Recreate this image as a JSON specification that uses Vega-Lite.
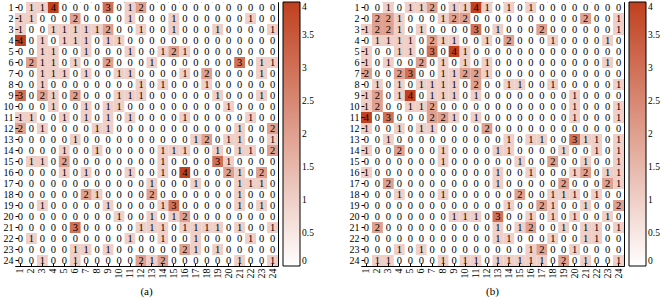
{"$schema":"https://vega.github.io/schema/vega-lite/v6.json","padding":{"left":2,"top":1,"right":0,"bottom":0},"config":{"font":"Liberation Serif","range":{"heatmap":["#ffffff","#c0401f"],"ramp":["#ffffff","#c0401f"]},"view":{"stroke":"black","strokeWidth":1},"axis":{"labelFont":"Liberation Serif","labelFontSize":10,"labelColor":"black","domain":false,"tickColor":"black","tickSize":-3,"labelPadding":5,"title":null,"grid":false},"legend":{"title":null,"gradientLength":264,"gradientThickness":17,"gradientStrokeColor":"black","gradientStrokeWidth":1,"labelFont":"Liberation Serif","labelFontSize":9.5,"labelColor":"black","labelOffset":4,"offset":4,"padding":0,"labelOverlap":false},"concat":{"spacing":33}},
"datasets":{
"a":[
{"r":1,"c":1,"v":0},{"r":1,"c":2,"v":1},{"r":1,"c":3,"v":1},{"r":1,"c":4,"v":4},{"r":1,"c":5,"v":0},{"r":1,"c":6,"v":0},{"r":1,"c":7,"v":0},{"r":1,"c":8,"v":0},{"r":1,"c":9,"v":3},{"r":1,"c":10,"v":0},{"r":1,"c":11,"v":1},{"r":1,"c":12,"v":2},{"r":1,"c":13,"v":0},{"r":1,"c":14,"v":0},{"r":1,"c":15,"v":0},{"r":1,"c":16,"v":0},{"r":1,"c":17,"v":0},{"r":1,"c":18,"v":0},{"r":1,"c":19,"v":0},{"r":1,"c":20,"v":0},{"r":1,"c":21,"v":0},{"r":1,"c":22,"v":0},{"r":1,"c":23,"v":0},{"r":1,"c":24,"v":0},
{"r":2,"c":1,"v":1},{"r":2,"c":2,"v":1},{"r":2,"c":3,"v":0},{"r":2,"c":4,"v":0},{"r":2,"c":5,"v":0},{"r":2,"c":6,"v":2},{"r":2,"c":7,"v":0},{"r":2,"c":8,"v":0},{"r":2,"c":9,"v":0},{"r":2,"c":10,"v":0},{"r":2,"c":11,"v":1},{"r":2,"c":12,"v":0},{"r":2,"c":13,"v":0},{"r":2,"c":14,"v":0},{"r":2,"c":15,"v":1},{"r":2,"c":16,"v":0},{"r":2,"c":17,"v":0},{"r":2,"c":18,"v":0},{"r":2,"c":19,"v":0},{"r":2,"c":20,"v":0},{"r":2,"c":21,"v":0},{"r":2,"c":22,"v":1},{"r":2,"c":23,"v":0},{"r":2,"c":24,"v":0},
{"r":3,"c":1,"v":1},{"r":3,"c":2,"v":0},{"r":3,"c":3,"v":0},{"r":3,"c":4,"v":1},{"r":3,"c":5,"v":1},{"r":3,"c":6,"v":1},{"r":3,"c":7,"v":1},{"r":3,"c":8,"v":1},{"r":3,"c":9,"v":2},{"r":3,"c":10,"v":0},{"r":3,"c":11,"v":0},{"r":3,"c":12,"v":1},{"r":3,"c":13,"v":0},{"r":3,"c":14,"v":0},{"r":3,"c":15,"v":1},{"r":3,"c":16,"v":0},{"r":3,"c":17,"v":0},{"r":3,"c":18,"v":0},{"r":3,"c":19,"v":1},{"r":3,"c":20,"v":0},{"r":3,"c":21,"v":0},{"r":3,"c":22,"v":0},{"r":3,"c":23,"v":0},{"r":3,"c":24,"v":1},
{"r":4,"c":1,"v":4},{"r":4,"c":2,"v":0},{"r":4,"c":3,"v":1},{"r":4,"c":4,"v":0},{"r":4,"c":5,"v":1},{"r":4,"c":6,"v":1},{"r":4,"c":7,"v":1},{"r":4,"c":8,"v":0},{"r":4,"c":9,"v":1},{"r":4,"c":10,"v":1},{"r":4,"c":11,"v":0},{"r":4,"c":12,"v":0},{"r":4,"c":13,"v":0},{"r":4,"c":14,"v":0},{"r":4,"c":15,"v":0},{"r":4,"c":16,"v":0},{"r":4,"c":17,"v":0},{"r":4,"c":18,"v":0},{"r":4,"c":19,"v":0},{"r":4,"c":20,"v":0},{"r":4,"c":21,"v":0},{"r":4,"c":22,"v":0},{"r":4,"c":23,"v":0},{"r":4,"c":24,"v":0},
{"r":5,"c":1,"v":0},{"r":5,"c":2,"v":0},{"r":5,"c":3,"v":1},{"r":5,"c":4,"v":1},{"r":5,"c":5,"v":0},{"r":5,"c":6,"v":0},{"r":5,"c":7,"v":1},{"r":5,"c":8,"v":0},{"r":5,"c":9,"v":0},{"r":5,"c":10,"v":0},{"r":5,"c":11,"v":1},{"r":5,"c":12,"v":0},{"r":5,"c":13,"v":0},{"r":5,"c":14,"v":1},{"r":5,"c":15,"v":2},{"r":5,"c":16,"v":1},{"r":5,"c":17,"v":0},{"r":5,"c":18,"v":0},{"r":5,"c":19,"v":0},{"r":5,"c":20,"v":0},{"r":5,"c":21,"v":0},{"r":5,"c":22,"v":0},{"r":5,"c":23,"v":0},{"r":5,"c":24,"v":0},
{"r":6,"c":1,"v":0},{"r":6,"c":2,"v":2},{"r":6,"c":3,"v":1},{"r":6,"c":4,"v":1},{"r":6,"c":5,"v":0},{"r":6,"c":6,"v":1},{"r":6,"c":7,"v":0},{"r":6,"c":8,"v":0},{"r":6,"c":9,"v":2},{"r":6,"c":10,"v":0},{"r":6,"c":11,"v":0},{"r":6,"c":12,"v":0},{"r":6,"c":13,"v":1},{"r":6,"c":14,"v":0},{"r":6,"c":15,"v":0},{"r":6,"c":16,"v":0},{"r":6,"c":17,"v":0},{"r":6,"c":18,"v":0},{"r":6,"c":19,"v":0},{"r":6,"c":20,"v":0},{"r":6,"c":21,"v":3},{"r":6,"c":22,"v":0},{"r":6,"c":23,"v":1},{"r":6,"c":24,"v":1},
{"r":7,"c":1,"v":0},{"r":7,"c":2,"v":0},{"r":7,"c":3,"v":1},{"r":7,"c":4,"v":1},{"r":7,"c":5,"v":1},{"r":7,"c":6,"v":0},{"r":7,"c":7,"v":1},{"r":7,"c":8,"v":0},{"r":7,"c":9,"v":0},{"r":7,"c":10,"v":1},{"r":7,"c":11,"v":1},{"r":7,"c":12,"v":0},{"r":7,"c":13,"v":0},{"r":7,"c":14,"v":0},{"r":7,"c":15,"v":0},{"r":7,"c":16,"v":1},{"r":7,"c":17,"v":0},{"r":7,"c":18,"v":2},{"r":7,"c":19,"v":0},{"r":7,"c":20,"v":0},{"r":7,"c":21,"v":0},{"r":7,"c":22,"v":0},{"r":7,"c":23,"v":1},{"r":7,"c":24,"v":0},
{"r":8,"c":1,"v":0},{"r":8,"c":2,"v":0},{"r":8,"c":3,"v":1},{"r":8,"c":4,"v":0},{"r":8,"c":5,"v":0},{"r":8,"c":6,"v":0},{"r":8,"c":7,"v":0},{"r":8,"c":8,"v":0},{"r":8,"c":9,"v":0},{"r":8,"c":10,"v":0},{"r":8,"c":11,"v":0},{"r":8,"c":12,"v":1},{"r":8,"c":13,"v":0},{"r":8,"c":14,"v":1},{"r":8,"c":15,"v":0},{"r":8,"c":16,"v":0},{"r":8,"c":17,"v":0},{"r":8,"c":18,"v":1},{"r":8,"c":19,"v":0},{"r":8,"c":20,"v":0},{"r":8,"c":21,"v":0},{"r":8,"c":22,"v":0},{"r":8,"c":23,"v":0},{"r":8,"c":24,"v":0},
{"r":9,"c":1,"v":3},{"r":9,"c":2,"v":0},{"r":9,"c":3,"v":2},{"r":9,"c":4,"v":1},{"r":9,"c":5,"v":0},{"r":9,"c":6,"v":2},{"r":9,"c":7,"v":0},{"r":9,"c":8,"v":0},{"r":9,"c":9,"v":0},{"r":9,"c":10,"v":1},{"r":9,"c":11,"v":1},{"r":9,"c":12,"v":1},{"r":9,"c":13,"v":0},{"r":9,"c":14,"v":0},{"r":9,"c":15,"v":0},{"r":9,"c":16,"v":0},{"r":9,"c":17,"v":0},{"r":9,"c":18,"v":0},{"r":9,"c":19,"v":1},{"r":9,"c":20,"v":0},{"r":9,"c":21,"v":0},{"r":9,"c":22,"v":0},{"r":9,"c":23,"v":1},{"r":9,"c":24,"v":0},
{"r":10,"c":1,"v":0},{"r":10,"c":2,"v":0},{"r":10,"c":3,"v":0},{"r":10,"c":4,"v":1},{"r":10,"c":5,"v":0},{"r":10,"c":6,"v":0},{"r":10,"c":7,"v":1},{"r":10,"c":8,"v":0},{"r":10,"c":9,"v":1},{"r":10,"c":10,"v":1},{"r":10,"c":11,"v":0},{"r":10,"c":12,"v":0},{"r":10,"c":13,"v":0},{"r":10,"c":14,"v":0},{"r":10,"c":15,"v":0},{"r":10,"c":16,"v":0},{"r":10,"c":17,"v":0},{"r":10,"c":18,"v":0},{"r":10,"c":19,"v":0},{"r":10,"c":20,"v":1},{"r":10,"c":21,"v":0},{"r":10,"c":22,"v":0},{"r":10,"c":23,"v":0},{"r":10,"c":24,"v":0},
{"r":11,"c":1,"v":1},{"r":11,"c":2,"v":1},{"r":11,"c":3,"v":0},{"r":11,"c":4,"v":0},{"r":11,"c":5,"v":1},{"r":11,"c":6,"v":0},{"r":11,"c":7,"v":1},{"r":11,"c":8,"v":0},{"r":11,"c":9,"v":1},{"r":11,"c":10,"v":0},{"r":11,"c":11,"v":1},{"r":11,"c":12,"v":0},{"r":11,"c":13,"v":0},{"r":11,"c":14,"v":0},{"r":11,"c":15,"v":0},{"r":11,"c":16,"v":1},{"r":11,"c":17,"v":0},{"r":11,"c":18,"v":0},{"r":11,"c":19,"v":0},{"r":11,"c":20,"v":0},{"r":11,"c":21,"v":0},{"r":11,"c":22,"v":1},{"r":11,"c":23,"v":0},{"r":11,"c":24,"v":0},
{"r":12,"c":1,"v":2},{"r":12,"c":2,"v":0},{"r":12,"c":3,"v":1},{"r":12,"c":4,"v":0},{"r":12,"c":5,"v":0},{"r":12,"c":6,"v":0},{"r":12,"c":7,"v":0},{"r":12,"c":8,"v":1},{"r":12,"c":9,"v":1},{"r":12,"c":10,"v":0},{"r":12,"c":11,"v":0},{"r":12,"c":12,"v":0},{"r":12,"c":13,"v":0},{"r":12,"c":14,"v":0},{"r":12,"c":15,"v":0},{"r":12,"c":16,"v":0},{"r":12,"c":17,"v":0},{"r":12,"c":18,"v":0},{"r":12,"c":19,"v":0},{"r":12,"c":20,"v":0},{"r":12,"c":21,"v":1},{"r":12,"c":22,"v":0},{"r":12,"c":23,"v":0},{"r":12,"c":24,"v":2},
{"r":13,"c":1,"v":0},{"r":13,"c":2,"v":0},{"r":13,"c":3,"v":0},{"r":13,"c":4,"v":0},{"r":13,"c":5,"v":0},{"r":13,"c":6,"v":1},{"r":13,"c":7,"v":0},{"r":13,"c":8,"v":0},{"r":13,"c":9,"v":0},{"r":13,"c":10,"v":0},{"r":13,"c":11,"v":0},{"r":13,"c":12,"v":0},{"r":13,"c":13,"v":0},{"r":13,"c":14,"v":0},{"r":13,"c":15,"v":0},{"r":13,"c":16,"v":0},{"r":13,"c":17,"v":1},{"r":13,"c":18,"v":2},{"r":13,"c":19,"v":0},{"r":13,"c":20,"v":1},{"r":13,"c":21,"v":1},{"r":13,"c":22,"v":0},{"r":13,"c":23,"v":0},{"r":13,"c":24,"v":1},
{"r":14,"c":1,"v":0},{"r":14,"c":2,"v":0},{"r":14,"c":3,"v":0},{"r":14,"c":4,"v":0},{"r":14,"c":5,"v":1},{"r":14,"c":6,"v":0},{"r":14,"c":7,"v":0},{"r":14,"c":8,"v":1},{"r":14,"c":9,"v":0},{"r":14,"c":10,"v":0},{"r":14,"c":11,"v":0},{"r":14,"c":12,"v":0},{"r":14,"c":13,"v":0},{"r":14,"c":14,"v":1},{"r":14,"c":15,"v":1},{"r":14,"c":16,"v":1},{"r":14,"c":17,"v":0},{"r":14,"c":18,"v":0},{"r":14,"c":19,"v":1},{"r":14,"c":20,"v":0},{"r":14,"c":21,"v":1},{"r":14,"c":22,"v":1},{"r":14,"c":23,"v":0},{"r":14,"c":24,"v":2},
{"r":15,"c":1,"v":0},{"r":15,"c":2,"v":1},{"r":15,"c":3,"v":1},{"r":15,"c":4,"v":0},{"r":15,"c":5,"v":2},{"r":15,"c":6,"v":0},{"r":15,"c":7,"v":0},{"r":15,"c":8,"v":0},{"r":15,"c":9,"v":0},{"r":15,"c":10,"v":0},{"r":15,"c":11,"v":0},{"r":15,"c":12,"v":0},{"r":15,"c":13,"v":0},{"r":15,"c":14,"v":1},{"r":15,"c":15,"v":0},{"r":15,"c":16,"v":0},{"r":15,"c":17,"v":0},{"r":15,"c":18,"v":0},{"r":15,"c":19,"v":3},{"r":15,"c":20,"v":1},{"r":15,"c":21,"v":0},{"r":15,"c":22,"v":0},{"r":15,"c":23,"v":0},{"r":15,"c":24,"v":0},
{"r":16,"c":1,"v":0},{"r":16,"c":2,"v":0},{"r":16,"c":3,"v":0},{"r":16,"c":4,"v":0},{"r":16,"c":5,"v":1},{"r":16,"c":6,"v":0},{"r":16,"c":7,"v":1},{"r":16,"c":8,"v":0},{"r":16,"c":9,"v":0},{"r":16,"c":10,"v":0},{"r":16,"c":11,"v":1},{"r":16,"c":12,"v":0},{"r":16,"c":13,"v":0},{"r":16,"c":14,"v":1},{"r":16,"c":15,"v":0},{"r":16,"c":16,"v":4},{"r":16,"c":17,"v":0},{"r":16,"c":18,"v":0},{"r":16,"c":19,"v":0},{"r":16,"c":20,"v":2},{"r":16,"c":21,"v":1},{"r":16,"c":22,"v":0},{"r":16,"c":23,"v":2},{"r":16,"c":24,"v":0},
{"r":17,"c":1,"v":0},{"r":17,"c":2,"v":0},{"r":17,"c":3,"v":0},{"r":17,"c":4,"v":0},{"r":17,"c":5,"v":0},{"r":17,"c":6,"v":0},{"r":17,"c":7,"v":0},{"r":17,"c":8,"v":0},{"r":17,"c":9,"v":0},{"r":17,"c":10,"v":0},{"r":17,"c":11,"v":0},{"r":17,"c":12,"v":0},{"r":17,"c":13,"v":1},{"r":17,"c":14,"v":0},{"r":17,"c":15,"v":0},{"r":17,"c":16,"v":0},{"r":17,"c":17,"v":1},{"r":17,"c":18,"v":0},{"r":17,"c":19,"v":0},{"r":17,"c":20,"v":0},{"r":17,"c":21,"v":1},{"r":17,"c":22,"v":1},{"r":17,"c":23,"v":1},{"r":17,"c":24,"v":0},
{"r":18,"c":1,"v":0},{"r":18,"c":2,"v":0},{"r":18,"c":3,"v":0},{"r":18,"c":4,"v":0},{"r":18,"c":5,"v":0},{"r":18,"c":6,"v":0},{"r":18,"c":7,"v":2},{"r":18,"c":8,"v":1},{"r":18,"c":9,"v":0},{"r":18,"c":10,"v":0},{"r":18,"c":11,"v":0},{"r":18,"c":12,"v":0},{"r":18,"c":13,"v":2},{"r":18,"c":14,"v":0},{"r":18,"c":15,"v":0},{"r":18,"c":16,"v":0},{"r":18,"c":17,"v":0},{"r":18,"c":18,"v":0},{"r":18,"c":19,"v":0},{"r":18,"c":20,"v":0},{"r":18,"c":21,"v":1},{"r":18,"c":22,"v":0},{"r":18,"c":23,"v":0},{"r":18,"c":24,"v":0},
{"r":19,"c":1,"v":0},{"r":19,"c":2,"v":0},{"r":19,"c":3,"v":1},{"r":19,"c":4,"v":0},{"r":19,"c":5,"v":0},{"r":19,"c":6,"v":0},{"r":19,"c":7,"v":0},{"r":19,"c":8,"v":0},{"r":19,"c":9,"v":1},{"r":19,"c":10,"v":0},{"r":19,"c":11,"v":0},{"r":19,"c":12,"v":0},{"r":19,"c":13,"v":0},{"r":19,"c":14,"v":1},{"r":19,"c":15,"v":3},{"r":19,"c":16,"v":0},{"r":19,"c":17,"v":0},{"r":19,"c":18,"v":0},{"r":19,"c":19,"v":0},{"r":19,"c":20,"v":0},{"r":19,"c":21,"v":1},{"r":19,"c":22,"v":0},{"r":19,"c":23,"v":1},{"r":19,"c":24,"v":0},
{"r":20,"c":1,"v":0},{"r":20,"c":2,"v":0},{"r":20,"c":3,"v":0},{"r":20,"c":4,"v":0},{"r":20,"c":5,"v":0},{"r":20,"c":6,"v":0},{"r":20,"c":7,"v":0},{"r":20,"c":8,"v":0},{"r":20,"c":9,"v":0},{"r":20,"c":10,"v":1},{"r":20,"c":11,"v":0},{"r":20,"c":12,"v":0},{"r":20,"c":13,"v":1},{"r":20,"c":14,"v":0},{"r":20,"c":15,"v":1},{"r":20,"c":16,"v":2},{"r":20,"c":17,"v":0},{"r":20,"c":18,"v":0},{"r":20,"c":19,"v":0},{"r":20,"c":20,"v":0},{"r":20,"c":21,"v":0},{"r":20,"c":22,"v":0},{"r":20,"c":23,"v":0},{"r":20,"c":24,"v":0},
{"r":21,"c":1,"v":0},{"r":21,"c":2,"v":0},{"r":21,"c":3,"v":0},{"r":21,"c":4,"v":0},{"r":21,"c":5,"v":0},{"r":21,"c":6,"v":3},{"r":21,"c":7,"v":0},{"r":21,"c":8,"v":0},{"r":21,"c":9,"v":0},{"r":21,"c":10,"v":0},{"r":21,"c":11,"v":0},{"r":21,"c":12,"v":1},{"r":21,"c":13,"v":1},{"r":21,"c":14,"v":1},{"r":21,"c":15,"v":0},{"r":21,"c":16,"v":1},{"r":21,"c":17,"v":1},{"r":21,"c":18,"v":1},{"r":21,"c":19,"v":1},{"r":21,"c":20,"v":0},{"r":21,"c":21,"v":1},{"r":21,"c":22,"v":0},{"r":21,"c":23,"v":0},{"r":21,"c":24,"v":1},
{"r":22,"c":1,"v":0},{"r":22,"c":2,"v":1},{"r":22,"c":3,"v":0},{"r":22,"c":4,"v":0},{"r":22,"c":5,"v":0},{"r":22,"c":6,"v":0},{"r":22,"c":7,"v":0},{"r":22,"c":8,"v":0},{"r":22,"c":9,"v":0},{"r":22,"c":10,"v":0},{"r":22,"c":11,"v":1},{"r":22,"c":12,"v":0},{"r":22,"c":13,"v":0},{"r":22,"c":14,"v":1},{"r":22,"c":15,"v":0},{"r":22,"c":16,"v":0},{"r":22,"c":17,"v":1},{"r":22,"c":18,"v":0},{"r":22,"c":19,"v":0},{"r":22,"c":20,"v":0},{"r":22,"c":21,"v":0},{"r":22,"c":22,"v":1},{"r":22,"c":23,"v":0},{"r":22,"c":24,"v":0},
{"r":23,"c":1,"v":0},{"r":23,"c":2,"v":0},{"r":23,"c":3,"v":0},{"r":23,"c":4,"v":0},{"r":23,"c":5,"v":0},{"r":23,"c":6,"v":1},{"r":23,"c":7,"v":1},{"r":23,"c":8,"v":0},{"r":23,"c":9,"v":1},{"r":23,"c":10,"v":0},{"r":23,"c":11,"v":0},{"r":23,"c":12,"v":0},{"r":23,"c":13,"v":0},{"r":23,"c":14,"v":0},{"r":23,"c":15,"v":0},{"r":23,"c":16,"v":2},{"r":23,"c":17,"v":1},{"r":23,"c":18,"v":0},{"r":23,"c":19,"v":1},{"r":23,"c":20,"v":0},{"r":23,"c":21,"v":0},{"r":23,"c":22,"v":0},{"r":23,"c":23,"v":0},{"r":23,"c":24,"v":0},
{"r":24,"c":1,"v":0},{"r":24,"c":2,"v":0},{"r":24,"c":3,"v":1},{"r":24,"c":4,"v":0},{"r":24,"c":5,"v":0},{"r":24,"c":6,"v":1},{"r":24,"c":7,"v":0},{"r":24,"c":8,"v":0},{"r":24,"c":9,"v":0},{"r":24,"c":10,"v":0},{"r":24,"c":11,"v":0},{"r":24,"c":12,"v":2},{"r":24,"c":13,"v":1},{"r":24,"c":14,"v":2},{"r":24,"c":15,"v":0},{"r":24,"c":16,"v":0},{"r":24,"c":17,"v":0},{"r":24,"c":18,"v":0},{"r":24,"c":19,"v":0},{"r":24,"c":20,"v":0},{"r":24,"c":21,"v":1},{"r":24,"c":22,"v":0},{"r":24,"c":23,"v":0},{"r":24,"c":24,"v":1}
],
"b":[
{"r":1,"c":1,"v":0},{"r":1,"c":2,"v":0},{"r":1,"c":3,"v":1},{"r":1,"c":4,"v":0},{"r":1,"c":5,"v":1},{"r":1,"c":6,"v":1},{"r":1,"c":7,"v":2},{"r":1,"c":8,"v":0},{"r":1,"c":9,"v":1},{"r":1,"c":10,"v":1},{"r":1,"c":11,"v":4},{"r":1,"c":12,"v":1},{"r":1,"c":13,"v":0},{"r":1,"c":14,"v":1},{"r":1,"c":15,"v":0},{"r":1,"c":16,"v":1},{"r":1,"c":17,"v":0},{"r":1,"c":18,"v":0},{"r":1,"c":19,"v":0},{"r":1,"c":20,"v":0},{"r":1,"c":21,"v":0},{"r":1,"c":22,"v":0},{"r":1,"c":23,"v":0},{"r":1,"c":24,"v":0},
{"r":2,"c":1,"v":0},{"r":2,"c":2,"v":2},{"r":2,"c":3,"v":2},{"r":2,"c":4,"v":1},{"r":2,"c":5,"v":0},{"r":2,"c":6,"v":0},{"r":2,"c":7,"v":0},{"r":2,"c":8,"v":1},{"r":2,"c":9,"v":2},{"r":2,"c":10,"v":2},{"r":2,"c":11,"v":0},{"r":2,"c":12,"v":0},{"r":2,"c":13,"v":0},{"r":2,"c":14,"v":0},{"r":2,"c":15,"v":0},{"r":2,"c":16,"v":0},{"r":2,"c":17,"v":0},{"r":2,"c":18,"v":0},{"r":2,"c":19,"v":0},{"r":2,"c":20,"v":0},{"r":2,"c":21,"v":2},{"r":2,"c":22,"v":0},{"r":2,"c":23,"v":0},{"r":2,"c":24,"v":1},
{"r":3,"c":1,"v":1},{"r":3,"c":2,"v":2},{"r":3,"c":3,"v":2},{"r":3,"c":4,"v":1},{"r":3,"c":5,"v":0},{"r":3,"c":6,"v":1},{"r":3,"c":7,"v":0},{"r":3,"c":8,"v":0},{"r":3,"c":9,"v":0},{"r":3,"c":10,"v":0},{"r":3,"c":11,"v":3},{"r":3,"c":12,"v":0},{"r":3,"c":13,"v":1},{"r":3,"c":14,"v":0},{"r":3,"c":15,"v":0},{"r":3,"c":16,"v":0},{"r":3,"c":17,"v":2},{"r":3,"c":18,"v":0},{"r":3,"c":19,"v":0},{"r":3,"c":20,"v":0},{"r":3,"c":21,"v":0},{"r":3,"c":22,"v":0},{"r":3,"c":23,"v":0},{"r":3,"c":24,"v":1},
{"r":4,"c":1,"v":0},{"r":4,"c":2,"v":1},{"r":4,"c":3,"v":1},{"r":4,"c":4,"v":1},{"r":4,"c":5,"v":1},{"r":4,"c":6,"v":0},{"r":4,"c":7,"v":2},{"r":4,"c":8,"v":1},{"r":4,"c":9,"v":1},{"r":4,"c":10,"v":0},{"r":4,"c":11,"v":0},{"r":4,"c":12,"v":1},{"r":4,"c":13,"v":0},{"r":4,"c":14,"v":2},{"r":4,"c":15,"v":0},{"r":4,"c":16,"v":0},{"r":4,"c":17,"v":0},{"r":4,"c":18,"v":1},{"r":4,"c":19,"v":0},{"r":4,"c":20,"v":0},{"r":4,"c":21,"v":0},{"r":4,"c":22,"v":0},{"r":4,"c":23,"v":1},{"r":4,"c":24,"v":0},
{"r":5,"c":1,"v":1},{"r":5,"c":2,"v":0},{"r":5,"c":3,"v":0},{"r":5,"c":4,"v":1},{"r":5,"c":5,"v":1},{"r":5,"c":6,"v":0},{"r":5,"c":7,"v":3},{"r":5,"c":8,"v":0},{"r":5,"c":9,"v":4},{"r":5,"c":10,"v":1},{"r":5,"c":11,"v":0},{"r":5,"c":12,"v":0},{"r":5,"c":13,"v":0},{"r":5,"c":14,"v":0},{"r":5,"c":15,"v":0},{"r":5,"c":16,"v":0},{"r":5,"c":17,"v":0},{"r":5,"c":18,"v":0},{"r":5,"c":19,"v":0},{"r":5,"c":20,"v":0},{"r":5,"c":21,"v":0},{"r":5,"c":22,"v":0},{"r":5,"c":23,"v":0},{"r":5,"c":24,"v":0},
{"r":6,"c":1,"v":1},{"r":6,"c":2,"v":0},{"r":6,"c":3,"v":1},{"r":6,"c":4,"v":0},{"r":6,"c":5,"v":0},{"r":6,"c":6,"v":2},{"r":6,"c":7,"v":0},{"r":6,"c":8,"v":1},{"r":6,"c":9,"v":0},{"r":6,"c":10,"v":1},{"r":6,"c":11,"v":0},{"r":6,"c":12,"v":1},{"r":6,"c":13,"v":0},{"r":6,"c":14,"v":0},{"r":6,"c":15,"v":0},{"r":6,"c":16,"v":0},{"r":6,"c":17,"v":0},{"r":6,"c":18,"v":0},{"r":6,"c":19,"v":0},{"r":6,"c":20,"v":0},{"r":6,"c":21,"v":0},{"r":6,"c":22,"v":0},{"r":6,"c":23,"v":1},{"r":6,"c":24,"v":0},
{"r":7,"c":1,"v":2},{"r":7,"c":2,"v":0},{"r":7,"c":3,"v":0},{"r":7,"c":4,"v":2},{"r":7,"c":5,"v":3},{"r":7,"c":6,"v":0},{"r":7,"c":7,"v":0},{"r":7,"c":8,"v":1},{"r":7,"c":9,"v":1},{"r":7,"c":10,"v":2},{"r":7,"c":11,"v":2},{"r":7,"c":12,"v":1},{"r":7,"c":13,"v":0},{"r":7,"c":14,"v":0},{"r":7,"c":15,"v":0},{"r":7,"c":16,"v":0},{"r":7,"c":17,"v":0},{"r":7,"c":18,"v":0},{"r":7,"c":19,"v":0},{"r":7,"c":20,"v":0},{"r":7,"c":21,"v":0},{"r":7,"c":22,"v":0},{"r":7,"c":23,"v":0},{"r":7,"c":24,"v":0},
{"r":8,"c":1,"v":0},{"r":8,"c":2,"v":1},{"r":8,"c":3,"v":0},{"r":8,"c":4,"v":1},{"r":8,"c":5,"v":0},{"r":8,"c":6,"v":1},{"r":8,"c":7,"v":1},{"r":8,"c":8,"v":1},{"r":8,"c":9,"v":1},{"r":8,"c":10,"v":0},{"r":8,"c":11,"v":2},{"r":8,"c":12,"v":0},{"r":8,"c":13,"v":0},{"r":8,"c":14,"v":1},{"r":8,"c":15,"v":1},{"r":8,"c":16,"v":0},{"r":8,"c":17,"v":0},{"r":8,"c":18,"v":1},{"r":8,"c":19,"v":0},{"r":8,"c":20,"v":0},{"r":8,"c":21,"v":0},{"r":8,"c":22,"v":0},{"r":8,"c":23,"v":0},{"r":8,"c":24,"v":1},
{"r":9,"c":1,"v":1},{"r":9,"c":2,"v":2},{"r":9,"c":3,"v":0},{"r":9,"c":4,"v":1},{"r":9,"c":5,"v":4},{"r":9,"c":6,"v":0},{"r":9,"c":7,"v":1},{"r":9,"c":8,"v":1},{"r":9,"c":9,"v":1},{"r":9,"c":10,"v":0},{"r":9,"c":11,"v":1},{"r":9,"c":12,"v":0},{"r":9,"c":13,"v":0},{"r":9,"c":14,"v":0},{"r":9,"c":15,"v":0},{"r":9,"c":16,"v":0},{"r":9,"c":17,"v":0},{"r":9,"c":18,"v":0},{"r":9,"c":19,"v":0},{"r":9,"c":20,"v":1},{"r":9,"c":21,"v":0},{"r":9,"c":22,"v":0},{"r":9,"c":23,"v":0},{"r":9,"c":24,"v":0},
{"r":10,"c":1,"v":1},{"r":10,"c":2,"v":2},{"r":10,"c":3,"v":0},{"r":10,"c":4,"v":0},{"r":10,"c":5,"v":1},{"r":10,"c":6,"v":1},{"r":10,"c":7,"v":2},{"r":10,"c":8,"v":0},{"r":10,"c":9,"v":0},{"r":10,"c":10,"v":0},{"r":10,"c":11,"v":0},{"r":10,"c":12,"v":0},{"r":10,"c":13,"v":0},{"r":10,"c":14,"v":0},{"r":10,"c":15,"v":0},{"r":10,"c":16,"v":0},{"r":10,"c":17,"v":0},{"r":10,"c":18,"v":0},{"r":10,"c":19,"v":0},{"r":10,"c":20,"v":1},{"r":10,"c":21,"v":0},{"r":10,"c":22,"v":0},{"r":10,"c":23,"v":0},{"r":10,"c":24,"v":1},
{"r":11,"c":1,"v":4},{"r":11,"c":2,"v":0},{"r":11,"c":3,"v":3},{"r":11,"c":4,"v":0},{"r":11,"c":5,"v":0},{"r":11,"c":6,"v":0},{"r":11,"c":7,"v":2},{"r":11,"c":8,"v":2},{"r":11,"c":9,"v":1},{"r":11,"c":10,"v":0},{"r":11,"c":11,"v":1},{"r":11,"c":12,"v":0},{"r":11,"c":13,"v":0},{"r":11,"c":14,"v":0},{"r":11,"c":15,"v":0},{"r":11,"c":16,"v":0},{"r":11,"c":17,"v":0},{"r":11,"c":18,"v":0},{"r":11,"c":19,"v":0},{"r":11,"c":20,"v":1},{"r":11,"c":21,"v":0},{"r":11,"c":22,"v":0},{"r":11,"c":23,"v":0},{"r":11,"c":24,"v":1},
{"r":12,"c":1,"v":1},{"r":12,"c":2,"v":0},{"r":12,"c":3,"v":0},{"r":12,"c":4,"v":1},{"r":12,"c":5,"v":0},{"r":12,"c":6,"v":1},{"r":12,"c":7,"v":1},{"r":12,"c":8,"v":0},{"r":12,"c":9,"v":0},{"r":12,"c":10,"v":0},{"r":12,"c":11,"v":0},{"r":12,"c":12,"v":2},{"r":12,"c":13,"v":0},{"r":12,"c":14,"v":0},{"r":12,"c":15,"v":0},{"r":12,"c":16,"v":0},{"r":12,"c":17,"v":0},{"r":12,"c":18,"v":0},{"r":12,"c":19,"v":0},{"r":12,"c":20,"v":0},{"r":12,"c":21,"v":0},{"r":12,"c":22,"v":0},{"r":12,"c":23,"v":0},{"r":12,"c":24,"v":0},
{"r":13,"c":1,"v":0},{"r":13,"c":2,"v":0},{"r":13,"c":3,"v":1},{"r":13,"c":4,"v":0},{"r":13,"c":5,"v":0},{"r":13,"c":6,"v":0},{"r":13,"c":7,"v":0},{"r":13,"c":8,"v":0},{"r":13,"c":9,"v":0},{"r":13,"c":10,"v":0},{"r":13,"c":11,"v":0},{"r":13,"c":12,"v":0},{"r":13,"c":13,"v":0},{"r":13,"c":14,"v":1},{"r":13,"c":15,"v":0},{"r":13,"c":16,"v":1},{"r":13,"c":17,"v":1},{"r":13,"c":18,"v":0},{"r":13,"c":19,"v":0},{"r":13,"c":20,"v":3},{"r":13,"c":21,"v":1},{"r":13,"c":22,"v":1},{"r":13,"c":23,"v":0},{"r":13,"c":24,"v":1},
{"r":14,"c":1,"v":1},{"r":14,"c":2,"v":0},{"r":14,"c":3,"v":0},{"r":14,"c":4,"v":2},{"r":14,"c":5,"v":0},{"r":14,"c":6,"v":0},{"r":14,"c":7,"v":0},{"r":14,"c":8,"v":1},{"r":14,"c":9,"v":0},{"r":14,"c":10,"v":0},{"r":14,"c":11,"v":0},{"r":14,"c":12,"v":0},{"r":14,"c":13,"v":1},{"r":14,"c":14,"v":1},{"r":14,"c":15,"v":0},{"r":14,"c":16,"v":0},{"r":14,"c":17,"v":0},{"r":14,"c":18,"v":0},{"r":14,"c":19,"v":1},{"r":14,"c":20,"v":0},{"r":14,"c":21,"v":0},{"r":14,"c":22,"v":1},{"r":14,"c":23,"v":0},{"r":14,"c":24,"v":1},
{"r":15,"c":1,"v":0},{"r":15,"c":2,"v":0},{"r":15,"c":3,"v":0},{"r":15,"c":4,"v":0},{"r":15,"c":5,"v":0},{"r":15,"c":6,"v":0},{"r":15,"c":7,"v":0},{"r":15,"c":8,"v":1},{"r":15,"c":9,"v":0},{"r":15,"c":10,"v":0},{"r":15,"c":11,"v":0},{"r":15,"c":12,"v":0},{"r":15,"c":13,"v":0},{"r":15,"c":14,"v":0},{"r":15,"c":15,"v":1},{"r":15,"c":16,"v":0},{"r":15,"c":17,"v":0},{"r":15,"c":18,"v":2},{"r":15,"c":19,"v":0},{"r":15,"c":20,"v":0},{"r":15,"c":21,"v":1},{"r":15,"c":22,"v":0},{"r":15,"c":23,"v":0},{"r":15,"c":24,"v":1},
{"r":16,"c":1,"v":1},{"r":16,"c":2,"v":0},{"r":16,"c":3,"v":0},{"r":16,"c":4,"v":0},{"r":16,"c":5,"v":0},{"r":16,"c":6,"v":0},{"r":16,"c":7,"v":0},{"r":16,"c":8,"v":0},{"r":16,"c":9,"v":0},{"r":16,"c":10,"v":0},{"r":16,"c":11,"v":0},{"r":16,"c":12,"v":0},{"r":16,"c":13,"v":1},{"r":16,"c":14,"v":0},{"r":16,"c":15,"v":0},{"r":16,"c":16,"v":1},{"r":16,"c":17,"v":0},{"r":16,"c":18,"v":0},{"r":16,"c":19,"v":0},{"r":16,"c":20,"v":1},{"r":16,"c":21,"v":2},{"r":16,"c":22,"v":0},{"r":16,"c":23,"v":1},{"r":16,"c":24,"v":1},
{"r":17,"c":1,"v":0},{"r":17,"c":2,"v":0},{"r":17,"c":3,"v":2},{"r":17,"c":4,"v":0},{"r":17,"c":5,"v":0},{"r":17,"c":6,"v":0},{"r":17,"c":7,"v":0},{"r":17,"c":8,"v":0},{"r":17,"c":9,"v":0},{"r":17,"c":10,"v":0},{"r":17,"c":11,"v":0},{"r":17,"c":12,"v":0},{"r":17,"c":13,"v":1},{"r":17,"c":14,"v":0},{"r":17,"c":15,"v":0},{"r":17,"c":16,"v":0},{"r":17,"c":17,"v":0},{"r":17,"c":18,"v":0},{"r":17,"c":19,"v":2},{"r":17,"c":20,"v":0},{"r":17,"c":21,"v":0},{"r":17,"c":22,"v":0},{"r":17,"c":23,"v":2},{"r":17,"c":24,"v":1},
{"r":18,"c":1,"v":0},{"r":18,"c":2,"v":0},{"r":18,"c":3,"v":0},{"r":18,"c":4,"v":1},{"r":18,"c":5,"v":0},{"r":18,"c":6,"v":0},{"r":18,"c":7,"v":0},{"r":18,"c":8,"v":1},{"r":18,"c":9,"v":0},{"r":18,"c":10,"v":0},{"r":18,"c":11,"v":0},{"r":18,"c":12,"v":0},{"r":18,"c":13,"v":0},{"r":18,"c":14,"v":0},{"r":18,"c":15,"v":2},{"r":18,"c":16,"v":0},{"r":18,"c":17,"v":0},{"r":18,"c":18,"v":1},{"r":18,"c":19,"v":1},{"r":18,"c":20,"v":1},{"r":18,"c":21,"v":0},{"r":18,"c":22,"v":1},{"r":18,"c":23,"v":0},{"r":18,"c":24,"v":0},
{"r":19,"c":1,"v":0},{"r":19,"c":2,"v":0},{"r":19,"c":3,"v":0},{"r":19,"c":4,"v":0},{"r":19,"c":5,"v":0},{"r":19,"c":6,"v":0},{"r":19,"c":7,"v":0},{"r":19,"c":8,"v":0},{"r":19,"c":9,"v":0},{"r":19,"c":10,"v":0},{"r":19,"c":11,"v":0},{"r":19,"c":12,"v":0},{"r":19,"c":13,"v":0},{"r":19,"c":14,"v":1},{"r":19,"c":15,"v":0},{"r":19,"c":16,"v":0},{"r":19,"c":17,"v":2},{"r":19,"c":18,"v":1},{"r":19,"c":19,"v":0},{"r":19,"c":20,"v":0},{"r":19,"c":21,"v":1},{"r":19,"c":22,"v":0},{"r":19,"c":23,"v":0},{"r":19,"c":24,"v":2},
{"r":20,"c":1,"v":0},{"r":20,"c":2,"v":0},{"r":20,"c":3,"v":0},{"r":20,"c":4,"v":0},{"r":20,"c":5,"v":0},{"r":20,"c":6,"v":0},{"r":20,"c":7,"v":0},{"r":20,"c":8,"v":0},{"r":20,"c":9,"v":1},{"r":20,"c":10,"v":1},{"r":20,"c":11,"v":1},{"r":20,"c":12,"v":0},{"r":20,"c":13,"v":3},{"r":20,"c":14,"v":0},{"r":20,"c":15,"v":0},{"r":20,"c":16,"v":1},{"r":20,"c":17,"v":0},{"r":20,"c":18,"v":1},{"r":20,"c":19,"v":0},{"r":20,"c":20,"v":1},{"r":20,"c":21,"v":0},{"r":20,"c":22,"v":0},{"r":20,"c":23,"v":1},{"r":20,"c":24,"v":0},
{"r":21,"c":1,"v":0},{"r":21,"c":2,"v":2},{"r":21,"c":3,"v":0},{"r":21,"c":4,"v":0},{"r":21,"c":5,"v":0},{"r":21,"c":6,"v":0},{"r":21,"c":7,"v":0},{"r":21,"c":8,"v":0},{"r":21,"c":9,"v":0},{"r":21,"c":10,"v":0},{"r":21,"c":11,"v":0},{"r":21,"c":12,"v":0},{"r":21,"c":13,"v":1},{"r":21,"c":14,"v":0},{"r":21,"c":15,"v":1},{"r":21,"c":16,"v":2},{"r":21,"c":17,"v":0},{"r":21,"c":18,"v":0},{"r":21,"c":19,"v":1},{"r":21,"c":20,"v":0},{"r":21,"c":21,"v":1},{"r":21,"c":22,"v":1},{"r":21,"c":23,"v":0},{"r":21,"c":24,"v":1},
{"r":22,"c":1,"v":0},{"r":22,"c":2,"v":0},{"r":22,"c":3,"v":0},{"r":22,"c":4,"v":0},{"r":22,"c":5,"v":0},{"r":22,"c":6,"v":0},{"r":22,"c":7,"v":0},{"r":22,"c":8,"v":0},{"r":22,"c":9,"v":0},{"r":22,"c":10,"v":0},{"r":22,"c":11,"v":0},{"r":22,"c":12,"v":0},{"r":22,"c":13,"v":1},{"r":22,"c":14,"v":1},{"r":22,"c":15,"v":0},{"r":22,"c":16,"v":0},{"r":22,"c":17,"v":0},{"r":22,"c":18,"v":1},{"r":22,"c":19,"v":0},{"r":22,"c":20,"v":0},{"r":22,"c":21,"v":1},{"r":22,"c":22,"v":1},{"r":22,"c":23,"v":0},{"r":22,"c":24,"v":0},
{"r":23,"c":1,"v":0},{"r":23,"c":2,"v":0},{"r":23,"c":3,"v":0},{"r":23,"c":4,"v":1},{"r":23,"c":5,"v":0},{"r":23,"c":6,"v":1},{"r":23,"c":7,"v":0},{"r":23,"c":8,"v":0},{"r":23,"c":9,"v":0},{"r":23,"c":10,"v":0},{"r":23,"c":11,"v":0},{"r":23,"c":12,"v":0},{"r":23,"c":13,"v":0},{"r":23,"c":14,"v":0},{"r":23,"c":15,"v":0},{"r":23,"c":16,"v":1},{"r":23,"c":17,"v":2},{"r":23,"c":18,"v":0},{"r":23,"c":19,"v":0},{"r":23,"c":20,"v":1},{"r":23,"c":21,"v":0},{"r":23,"c":22,"v":0},{"r":23,"c":23,"v":0},{"r":23,"c":24,"v":0},
{"r":24,"c":1,"v":0},{"r":24,"c":2,"v":1},{"r":24,"c":3,"v":1},{"r":24,"c":4,"v":0},{"r":24,"c":5,"v":0},{"r":24,"c":6,"v":0},{"r":24,"c":7,"v":0},{"r":24,"c":8,"v":1},{"r":24,"c":9,"v":0},{"r":24,"c":10,"v":1},{"r":24,"c":11,"v":1},{"r":24,"c":12,"v":0},{"r":24,"c":13,"v":1},{"r":24,"c":14,"v":1},{"r":24,"c":15,"v":1},{"r":24,"c":16,"v":1},{"r":24,"c":17,"v":1},{"r":24,"c":18,"v":0},{"r":24,"c":19,"v":2},{"r":24,"c":20,"v":0},{"r":24,"c":21,"v":1},{"r":24,"c":22,"v":0},{"r":24,"c":23,"v":0},{"r":24,"c":24,"v":1}
]},
"hconcat":[
{"data":{"name":"a"},"width":263,"height":264,
"title":{"text":"(a)","orient":"bottom","frame":"group","font":"Liberation Serif","fontSize":11,"fontWeight":"normal","color":"black","offset":8},
"encoding":{"x":{"field":"c","type":"ordinal","scale":{"paddingInner":0,"paddingOuter":0},"axis":{"labelAngle":-90}},"y":{"field":"r","type":"ordinal","scale":{"paddingInner":0,"paddingOuter":0}}},
"layer":[
{"mark":"rect","encoding":{"color":{"field":"v","type":"quantitative","scale":{"type":"linear","domain":[0,4],"range":["#ffffff","#c0401f"],"interpolate":"rgb"},"legend":{"values":[0,0.5,1,1.5,2,2.5,3,3.5,4],"tickCount":8,"format":"~g","labelOverlap":false}}}},
{"mark":{"type":"text","font":"Liberation Serif","fontSize":10.5,"color":"black","baseline":"middle","align":"center"},"encoding":{"text":{"field":"v","type":"quantitative"},"x":{"field":"c","type":"ordinal","axis":{"orient":"top","labels":false}},"y":{"field":"r","type":"ordinal","axis":{"orient":"right","labels":false}}}}
],
"resolve":{"axis":{"x":"independent","y":"independent"}}},
{"data":{"name":"b"},"width":263,"height":264,
"title":{"text":"(b)","orient":"bottom","frame":"group","font":"Liberation Serif","fontSize":11,"fontWeight":"normal","color":"black","offset":8},
"encoding":{"x":{"field":"c","type":"ordinal","scale":{"paddingInner":0,"paddingOuter":0},"axis":{"labelAngle":-90}},"y":{"field":"r","type":"ordinal","scale":{"paddingInner":0,"paddingOuter":0}}},
"layer":[
{"mark":"rect","encoding":{"color":{"field":"v","type":"quantitative","scale":{"type":"linear","domain":[0,4],"range":["#ffffff","#c0401f"],"interpolate":"rgb"},"legend":{"values":[0,0.5,1,1.5,2,2.5,3,3.5,4],"tickCount":8,"format":"~g","labelOverlap":false}}}},
{"mark":{"type":"text","font":"Liberation Serif","fontSize":10.5,"color":"black","baseline":"middle","align":"center"},"encoding":{"text":{"field":"v","type":"quantitative"},"x":{"field":"c","type":"ordinal","axis":{"orient":"top","labels":false}},"y":{"field":"r","type":"ordinal","axis":{"orient":"right","labels":false}}}}
],
"resolve":{"axis":{"x":"independent","y":"independent"}}}
],
"resolve":{"scale":{"color":"independent"}}}
